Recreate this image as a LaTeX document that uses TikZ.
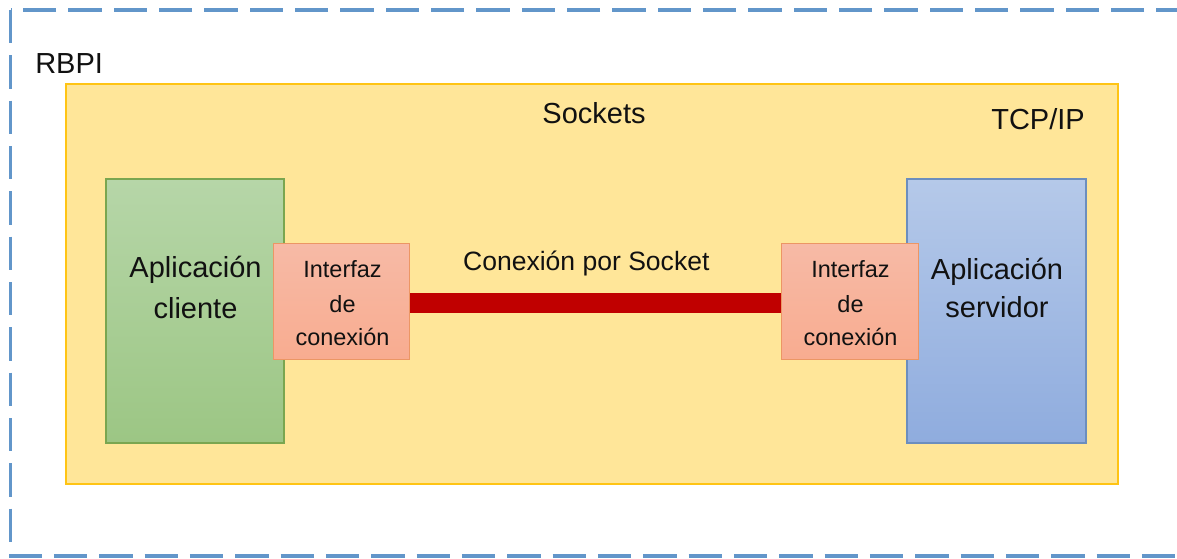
\documentclass[tikz,border=0pt]{standalone}
\usepackage{fontspec}
\setmainfont{Liberation Sans}
\definecolor{dashblue}{RGB}{98,150,202}
\definecolor{yfill}{RGB}{255,230,153}
\definecolor{ydraw}{RGB}{255,196,20}
\definecolor{gtop}{RGB}{182,214,168}
\definecolor{gbot}{RGB}{156,198,132}
\definecolor{gdraw}{RGB}{122,166,80}
\definecolor{btop}{RGB}{181,201,233}
\definecolor{bbot}{RGB}{143,172,222}
\definecolor{bdraw}{RGB}{108,142,190}
\definecolor{ptop}{RGB}{247,186,166}
\definecolor{pbot}{RGB}{248,172,144}
\definecolor{pdraw}{RGB}{236,150,100}
\definecolor{barred}{RGB}{192,0,0}
\definecolor{txt}{RGB}{17,17,17}
\tikzset{
  px/.style={x=0.75pt,y=-0.75pt},
  layerbox/.style={draw=ydraw,line width=1.1pt,fill=yfill,inner sep=0pt,minimum width=789pt,minimum height=300pt},
  appgreen/.style={draw=gdraw,line width=0.8pt,top color=gtop,bottom color=gbot,inner sep=0pt,minimum width=133.5pt,minimum height=198pt},
  appblue/.style={draw=bdraw,line width=0.8pt,top color=btop,bottom color=bbot,inner sep=0pt,minimum width=134.25pt,minimum height=198pt},
  ifbox/.style={draw=pdraw,line width=0.7pt,top color=ptop,bottom color=pbot,inner sep=0pt,minimum width=102.5pt,minimum height=87pt},
  bigtxt/.style={inner sep=0pt,text=txt,font=\fontsize{21.75pt}{26pt}\selectfont,anchor=base},
  midtxt/.style={inner sep=0pt,text=txt,font=\fontsize{19.9pt}{24pt}\selectfont,anchor=base},
  smalltxt/.style={inner sep=0pt,text=txt,font=\fontsize{17.6pt}{21pt}\selectfont,anchor=base},
  redbar/.style={draw=barred,line width=15pt},
  outerdash/.style={draw=dashblue,line width=2.6pt,dash pattern=on 25pt off 9pt}
}
\begin{document}
\begin{tikzpicture}[px]
\useasboundingbox (0,0) rectangle (1177,558);
\clip (0,0) rectangle (1177,558);
\fill[white] (0,0) rectangle (1177,558);
\coordinate (otl) at (10.5,10);
\coordinate (obr) at (1210,556);
\draw[outerdash] (otl) rectangle (obr);
\node[bigtxt,anchor=base west] (rbpi) at (35,73) {RBPI};
\node[layerbox] (tcp) at (592,284) {};
\node[bigtxt] (sockets) at (594,123) {Sockets};
\node[bigtxt] (tcpip) at (1038,129) {TCP/IP};
\node[appgreen] (cli) at (195,311) {};
\node[appblue] (srv) at (996.5,311) {};
\node[ifbox] (lp) at (341.5,301) {};
\node[ifbox] (rp) at (850,301) {};
\draw[redbar] (lp.east |- 0,303) -- (rp.west |- 0,303);
\node[midtxt] (conn) at (586.3,270) {Conexión por Socket};
\node[bigtxt] (cli1) at (195.5,277.5) {Aplicación};
\node[bigtxt] (cli2) at (195.5,318) {cliente};
\node[bigtxt] (srv1) at (997,279) {Aplicación};
\node[bigtxt] (srv2) at (997,317) {servidor};
\node[smalltxt] (lp1) at (342.5,277) {Interfaz};
\node[smalltxt] (lp2) at (342.5,312) {de};
\node[smalltxt] (lp3) at (342.5,345) {conexión};
\node[smalltxt] (rp1) at (850.5,277) {Interfaz};
\node[smalltxt] (rp2) at (850.5,312) {de};
\node[smalltxt] (rp3) at (850.5,345) {conexión};
\end{tikzpicture}
\end{document}
